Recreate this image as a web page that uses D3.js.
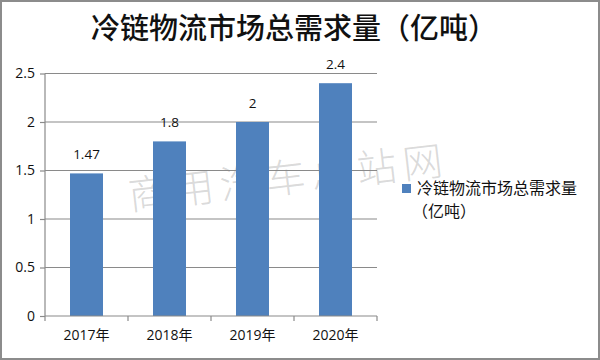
<!DOCTYPE html>
<html><head><meta charset="utf-8">
<script src="https://cdn.jsdelivr.net/npm/d3@7/dist/d3.min.js"></script>
<style>body{margin:0;background:#fff}svg{display:block}</style>
</head><body>
<svg id="c" width="600" height="360"></svg>
<script>
const categories = ["2017年","2018年","2019年","2020年"];
const values = [1.47, 1.8, 2, 2.4];
const yTicks = [0, 0.5, 1, 1.5, 2, 2.5];
const title = "冷链物流市场总需求量（亿吨）";
const legendLines = ["冷链物流市场总需求量", "（亿吨）"];
const watermark = "商用汽车总站网";

const svg = d3.select("#c");
const W = 600, H = 360;
const m = {left:45, right:223, top:73.5, bottom:44};
const xb = d3.scaleBand().domain(categories).range([m.left, W - m.right]);
const y = d3.scaleLinear().domain([0, 2.5]).range([H - m.bottom, m.top]);

svg.append("rect").attr("x",1).attr("y",1).attr("width",W-2).attr("height",H-2)
  .attr("fill","#fff").attr("stroke","#8c8c8c").attr("stroke-width",2);

svg.append("text").attr("x",294).attr("y",39).attr("text-anchor","middle")
  .attr("font-family","'Noto Sans CJK SC'").attr("font-size",29).attr("font-weight",500)
  .attr("fill","#111").text(title);

// watermark (beneath bars)
svg.append("text").attr("transform","translate(290,192) rotate(-6.5)").attr("text-anchor","middle")
  .attr("font-family","'Noto Sans CJK SC'").attr("font-size",40).attr("font-weight",300)
  .attr("letter-spacing",6).attr("fill","rgba(140,140,140,0.32)").text(watermark);

// gridlines
svg.append("g").selectAll("line").data(yTicks.filter(d=>d>0)).join("line")
  .attr("x1",m.left).attr("x2",W-m.right).attr("y1",d=>y(d)).attr("y2",d=>y(d))
  .attr("stroke","#8a8a8a").attr("stroke-width",1.2);

// bars
svg.append("g").selectAll("rect").data(values).join("rect")
  .attr("x",(d,i)=>xb(categories[i]) + xb.bandwidth()/2 - 16.5)
  .attr("width",33)
  .attr("y",d=>y(d)).attr("height",d=>y(0)-y(d))
  .attr("fill","#4F81BD");

// value labels
svg.append("g").selectAll("text").data(values).join("text")
  .attr("x",(d,i)=>xb(categories[i]) + xb.bandwidth()/2)
  .attr("y",d=>y(d)-14).attr("text-anchor","middle")
  .attr("font-family","'Open Sans', sans-serif").attr("font-size",13.5).attr("fill","#111")
  .text(d=>d);

// y axis
const ya = svg.append("g").attr("transform",`translate(${m.left},0)`)
  .call(d3.axisLeft(y).tickValues(yTicks).tickSize(5).tickPadding(5).tickFormat(d=>d));
ya.select(".domain").attr("stroke","#8a8a8a").attr("stroke-width",1.2).attr("d",`M-0,${m.top}V${H-m.bottom}`);
ya.selectAll(".tick line").attr("stroke","#8a8a8a").attr("stroke-width",1.2);
ya.selectAll("text").attr("font-family","'Open Sans', sans-serif").attr("font-size",14).attr("fill","#111");

// x axis
const xa = svg.append("g").attr("transform",`translate(0,${H-m.bottom})`)
  .call(d3.axisBottom(xb).tickSize(0).tickPadding(14));
xa.select(".domain").attr("stroke","#8a8a8a").attr("stroke-width",1.2).attr("d",`M${m.left},0H${W-m.right}`);
xa.selectAll("text").attr("font-family","'Open Sans','Noto Sans CJK SC', sans-serif").attr("font-size",14).attr("fill","#111");
xa.append("g").selectAll("line").data(categories.concat(["_end"])).join("line")
  .attr("x1",(d,i)=>m.left + i*xb.step()).attr("x2",(d,i)=>m.left + i*xb.step())
  .attr("y1",0).attr("y2",5).attr("stroke","#8a8a8a").attr("stroke-width",1.2);

// legend
svg.append("rect").attr("x",402).attr("y",184).attr("width",9).attr("height",9).attr("fill","#4F81BD");
svg.append("g").selectAll("text").data(legendLines).join("text")
  .attr("x",(d,i)=> i===0 ? 417 : 412).attr("y",(d,i)=>194 + i*23)
  .attr("font-family","'Noto Sans CJK SC'").attr("font-size",16).attr("fill","#111")
  .text(d=>d);
</script>
</body></html>
